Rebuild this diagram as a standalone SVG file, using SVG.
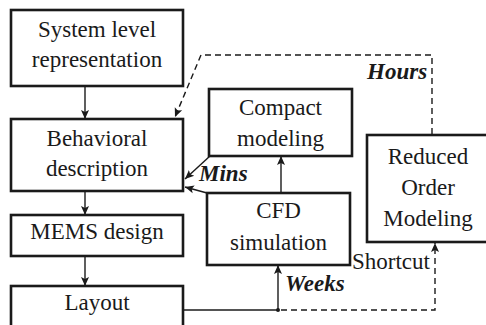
<svg xmlns="http://www.w3.org/2000/svg" width="486" height="325" viewBox="0 0 486 325">
<defs>
<style>
.box{fill:#fff;stroke:#1a1a1a;stroke-width:2.6}
.t{fill:#1a1a1a;text-anchor:middle}
.b{fill:#1a1a1a;font-weight:bold;font-style:italic}
.c{fill:none;stroke:#1a1a1a;stroke-width:1.4}
.d{stroke-dasharray:6,4}
</style>
<marker id="ah" markerUnits="userSpaceOnUse" markerWidth="10" markerHeight="10" viewBox="0 0 10 10" refX="9" refY="5" orient="auto">
<path d="M0,1 L9,5 L0,9 L2,5 Z" fill="#1a1a1a"/>
</marker>
</defs>
<rect width="486" height="325" fill="#fff"/>
<g id="connectors">
<line class="c" x1="85" y1="86" x2="85" y2="119" marker-end="url(#ah)"/>
<line class="c" x1="85" y1="191" x2="85" y2="215" marker-end="url(#ah)"/>
<line class="c" x1="85" y1="256" x2="85" y2="286" marker-end="url(#ah)"/>
<line class="c" x1="281" y1="193" x2="281" y2="156" marker-end="url(#ah)"/>
<line class="c" x1="210" y1="156" x2="185" y2="179" marker-end="url(#ah)"/>
<line class="c" x1="207" y1="193" x2="185" y2="187" marker-end="url(#ah)"/>
<polyline class="c" points="184,310 278,310"/>
<line class="c" x1="278" y1="310" x2="278" y2="265" marker-end="url(#ah)"/>
<circle cx="278" cy="310" r="2" fill="#1a1a1a"/>
<polyline class="c d" points="281,310 435,310 435,243" marker-end="url(#ah)"/>
<polyline class="c d" points="432,134 432,55 201,55 175,117" marker-end="url(#ah)"/>
</g>
<g id="system">
<rect class="box" x="11" y="10" width="172" height="76"/>
<text class="t" x="97" y="37" font-family="Times New Roman" font-size="23">System level</text>
<text class="t" x="97" y="67" font-family="Times New Roman" font-size="23">representation</text>
</g>
<g id="behavioral">
<rect class="box" x="11" y="119" width="172" height="72"/>
<text class="t" x="97" y="146" font-family="Times New Roman" font-size="23">Behavioral</text>
<text class="t" x="97" y="176" font-family="Times New Roman" font-size="23">description</text>
</g>
<g id="mems">
<rect class="box" x="11" y="215" width="172" height="41"/>
<text class="t" x="97" y="239" font-family="Times New Roman" font-size="23">MEMS design</text>
</g>
<g id="layout">
<rect class="box" x="11" y="286" width="172" height="42"/>
<text class="t" x="97" y="310" font-family="Times New Roman" font-size="23">Layout</text>
</g>
<g id="compact">
<rect class="box" x="209" y="89" width="143" height="67"/>
<text class="t" x="280.5" y="115" font-family="Times New Roman" font-size="23">Compact</text>
<text class="t" x="280.5" y="146" font-family="Times New Roman" font-size="23">modeling</text>
</g>
<g id="cfd">
<rect class="box" x="207" y="193" width="143" height="72"/>
<text class="t" x="278.5" y="218" font-family="Times New Roman" font-size="23">CFD</text>
<text class="t" x="278.5" y="250" font-family="Times New Roman" font-size="23">simulation</text>
</g>
<g id="rom">
<rect class="box" x="367" y="135" width="123" height="107"/>
<text class="t" x="428" y="164" font-family="Times New Roman" font-size="23">Reduced</text>
<text class="t" x="428" y="195" font-family="Times New Roman" font-size="23">Order</text>
<text class="t" x="428" y="226" font-family="Times New Roman" font-size="23">Modeling</text>
</g>
<g id="labels">
<text class="b" x="367" y="79" font-family="Times New Roman" font-size="23">Hours</text>
<text class="b" x="199" y="181" font-family="Times New Roman" font-size="23">Mins</text>
<text class="b" x="285" y="291" font-family="Times New Roman" font-size="23">Weeks</text>
<text x="352" y="269" fill="#1a1a1a" font-family="Times New Roman" font-size="23">Shortcut</text>
</g>
</svg>
